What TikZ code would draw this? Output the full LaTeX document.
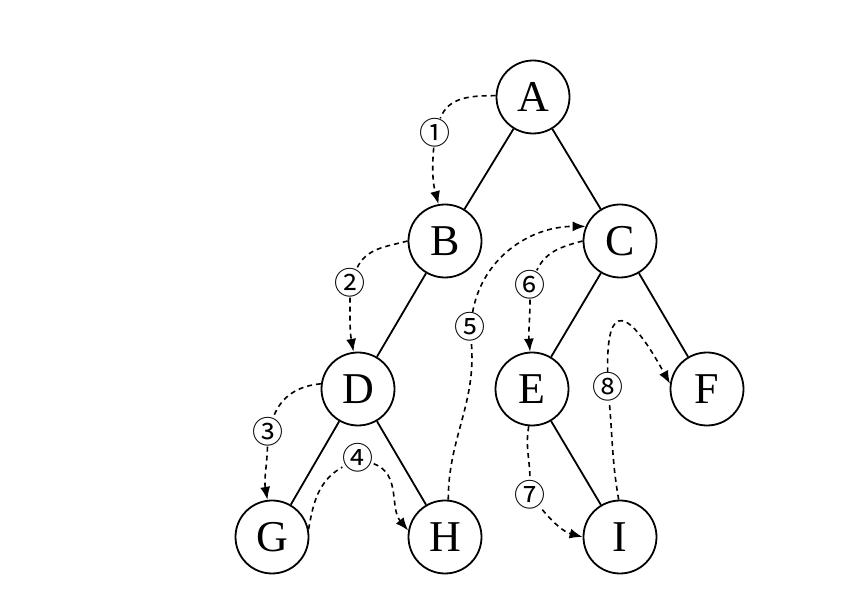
\documentclass[tikz,border=0pt]{standalone}
\usepackage{fontspec}
\setmainfont{Liberation Serif}
\newfontfamily\circfont{Noto Sans CJK SC}
\usetikzlibrary{arrows.meta}
\tikzset{
  tree node/.style={
    circle,
    draw,
    line width=1.8pt,
    minimum size=73pt,
    inner sep=0pt,
    font=\fontsize{44}{44}\selectfont
  },
  tree edge/.style={
    line width=1.8pt
  },
  visit/.style={
    line width=1.6pt,
    dash pattern=on 5pt off 4pt
  },
  visit arrow/.style={
    visit,
    -{Latex[length=13pt,width=10pt]}
  },
  order label/.style={
    inner sep=0pt,
    font=\circfont\fontsize{31}{31}\selectfont
  }
}

\begin{document}
\begin{tikzpicture}[x=1pt, y=1pt]
    \useasboundingbox (0,0) rectangle (846,594);

    % 结点
    \node[tree node] (A) at (533,497) {A};
    \node[tree node] (B) at (445,353) {B};
    \node[tree node] (C) at (620,353) {C};
    \node[tree node] (D) at (358,205) {D};
    \node[tree node] (E) at (532,205) {E};
    \node[tree node] (F) at (707,205) {F};
    \node[tree node] (G) at (272,57) {G};
    \node[tree node] (H) at (445,57) {H};
    \node[tree node] (I) at (620,57) {I};

    % 树边
    \foreach \u/\v in {A/B, A/C, B/D, C/E, C/F, D/G, D/H, E/I} {
      \draw[tree edge] (\u) -- (\v);
    }

    % 访问顺序编号
    \node[order label] (n1) at (435,461) {①};
    \node[order label] (n2) at (350,311) {②};
    \node[order label] (n3) at (268,162) {③};
    \node[order label] (n4) at (358,136) {④};
    \node[order label] (n5) at (470,267) {⑤};
    \node[order label] (n6) at (530,309) {⑥};
    \node[order label] (n7) at (530,99) {⑦};
    \node[order label] (n8) at (608,207) {⑧};

    % 遍历路线 (虚线)
    \draw[visit] (A.178) to[out=180, in=70] (n1);
    \draw[visit arrow] (n1) to[out=-95, in=105] (B.100);

    \draw[visit] (B.180) to[out=195, in=65] (n2);
    \draw[visit arrow] (n2) to[out=-90, in=100] (D.97);

    \draw[visit] (D.172) to[out=185, in=70] (n3);
    \draw[visit arrow] (n3) to[out=-92, in=100] (G.97);

    \draw[visit] (G.12) to[out=80, in=210] (n4);
    \draw[visit arrow] (n4) to[out=-20, in=130] (H.170);

    \draw[visit] (H.85) to[out=90, in=-85] (n5);
    \draw[visit arrow] (n5) to[out=80, in=180] (C.157);

    \draw[visit] (C.180) to[out=195, in=65] (n6);
    \draw[visit arrow] (n6) to[out=-90, in=95] (E.93);

    \draw[visit] (E.-95) to[out=-100, in=90] (n7);
    \draw[visit arrow] (n7) to[out=-50, in=165] (I.180);

    \draw[visit] (I.92) to[out=100, in=-85] (n8);
    \draw[visit arrow] (n8) .. controls +(-2,89) and +(-41,75) .. (F.172);

\end{tikzpicture}
\end{document}
